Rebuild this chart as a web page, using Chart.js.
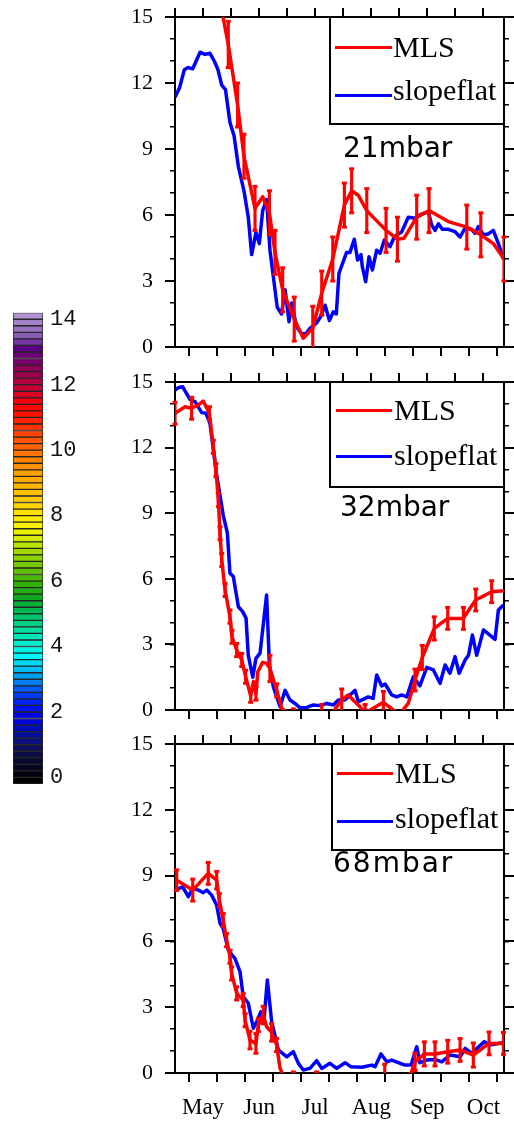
<!DOCTYPE html>
<html>
<head>
<meta charset="utf-8">
<script src="https://cdn.jsdelivr.net/npm/chart.js@4.4.1/dist/chart.umd.min.js"></script>
<style>
html, body { margin: 0; padding: 0; background: #fff; }
body { width: 514px; height: 1123px; position: relative; overflow: hidden; }
canvas { position: absolute; }
.box { position: absolute; border: 2px solid #000; background: #fff; box-sizing: border-box; }
.ln { position: absolute; height: 3px; }
.tx { position: absolute; font-family: "Liberation Serif", "Times New Roman", serif; font-size: 30px; line-height: 30px; white-space: nowrap; color: #000; }
.lev { position: absolute; font-family: "DejaVu Sans", sans-serif; font-size: 28px; line-height: 28px; white-space: nowrap; color: #000; }
</style>
</head>
<body>
<canvas id="cbar" width="100" height="500" style="left:0;top:300px"></canvas>
<canvas id="p1" width="384" height="362" style="left:130px;top:0"></canvas>
<canvas id="p2" width="384" height="363" style="left:130px;top:362px"></canvas>
<canvas id="p3" width="384" height="398" style="left:130px;top:725px"></canvas>

<!-- 21mbar -->
<div class="box" style="left:329px;top:16px;width:176px;height:109px"></div>
<div class="ln" style="left:335px;top:45.5px;width:57px;background:#f00"></div>
<div class="tx" style="left:393px;top:32px">MLS</div>
<div class="ln" style="left:335px;top:94px;width:57px;background:#00f"></div>
<div class="tx" style="left:393px;top:75px">slopeflat</div>
<div class="lev" style="left:343px;top:134px">21mbar</div>

<!-- 32mbar -->
<div class="box" style="left:329px;top:381px;width:176px;height:107px"></div>
<div class="ln" style="left:336px;top:408.5px;width:56px;background:#f00"></div>
<div class="tx" style="left:394px;top:395px">MLS</div>
<div class="ln" style="left:336px;top:455px;width:56px;background:#00f"></div>
<div class="tx" style="left:394px;top:440px">slopeflat</div>
<div class="lev" style="left:340px;top:493px">32mbar</div>

<!-- 68mbar -->
<div class="box" style="left:331px;top:743px;width:174px;height:108px"></div>
<div class="ln" style="left:337px;top:772px;width:56px;background:#f00"></div>
<div class="tx" style="left:395px;top:758px">MLS</div>
<div class="ln" style="left:337px;top:820px;width:56px;background:#00f"></div>
<div class="tx" style="left:395px;top:803px">slopeflat</div>
<div class="lev" style="left:333px;top:849px;letter-spacing:2px">68mbar</div>

<script>
// x axis = days from mid-April (0 .. 176)
const DAY_MAX = 176;
const xTicks = [0, 15, 30, 45, 60, 75, 90, 105, 120, 135, 150, 165];
const monthDays = [15, 45, 75, 105, 135, 165];
const monthNames = ['May', 'Jun', 'Jul', 'Aug', 'Sep', 'Oct'];
const yMajor = [0, 3, 6, 9, 12, 15];
const yMinor = [0, 1, 2, 3, 4, 5, 6, 7, 8, 9, 10, 11, 12, 13, 14, 15];
const cbarLabels = [0, 2, 4, 6, 8, 10, 12, 14];

// [day, value]
const slopeflat21 = [[0,11.35],[2.5,11.8],[5,12.6],[7,12.7],[9.5,12.65],[13.4,13.4],[16,13.3],[18.7,13.35],[21,13.0],[23,12.6],[25,11.9],[27,11.7],[29.4,10.2],[31.6,9.6],[33.9,8.2],[36.9,7.1],[39.2,5.9],[41,4.2],[43.3,5.2],[45.1,4.7],[46.9,6.2],[49,6.7],[50.8,4.4],[52.6,3.2],[54.7,1.8],[57,1.5],[58.9,2.6],[61,1.15],[62.4,2.0],[65.1,0.9],[67.8,0.6],[70,0.6],[72.2,0.85],[75.8,1.1],[78,1.4],[80.3,1.9],[82.6,1.2],[84.7,1.6],[86.3,1.5],[87.7,3.35],[91.8,4.3],[93.6,4.3],[95.9,4.9],[97.7,3.95],[99.5,4.2],[100.2,3.65],[102,2.97],[103.8,4.1],[105.6,3.5],[107.9,4.4],[109.7,4.26],[112,4.86],[115,4.56],[117.3,5.0],[121.3,5.24],[124.8,5.9],[128.4,5.85],[131,6.0],[135.5,6.15],[137.3,5.55],[139.1,5.3],[140.9,5.6],[143,5.35],[146.2,5.35],[149.8,5.24],[152.5,5.0],[155.2,5.4],[158.7,5.35],[160.5,5.17],[162.3,5.47],[165,5.1],[167.6,5.14],[170.3,5.3],[173,4.7],[175.7,4.0]];
// [day, value, error]
const mls21 = [[23,16.2,null],[28.5,13.75,1.05],[33.5,11.0,1.0],[36.9,8.67,1.0],[42.8,6.3,1.0],[46.9,6.83,null],[50.5,6.1,1.0],[53.5,4.3,1.0],[57.6,2.6,1.0],[63.8,1.27,1.0],[68.6,0.4,null],[73.7,0.85,1.0],[78.5,2.45,1.0],[84.4,4.0,1.0],[90.6,6.45,1.0],[94.5,7.1,1.0],[98,6.9,null],[102.6,6.2,1.0],[112.9,5.3,1.0],[119,4.9,1.0],[122.5,4.94,null],[129.3,5.9,1.0],[135.9,6.2,1.0],[146.2,5.7,null],[156.1,5.45,1.0],[163.6,5.1,1.0],[170.3,4.7,null],[176,4.0,1.0]];

const slopeflat32 = [[0,14.63],[2,14.75],[4.1,14.78],[8,14.2],[10.7,14.1],[14.3,13.6],[16.6,13.57],[18.7,13.1],[22.3,10.75],[25.8,8.9],[28,8.1],[29.4,6.25],[31.2,6.1],[33.9,4.72],[36.2,4.5],[38,4.2],[39.2,2.5],[41.6,1.5],[43.3,2.36],[45.5,2.6],[49,5.26],[50.5,2.06],[52.6,1.07],[56.2,0.15],[58.9,0.9],[61.5,0.46],[64.2,0.3],[66.9,0.1],[70.5,0.12],[74,0.23],[77.6,0.2],[81.2,0.3],[84.7,0.23],[87.4,0.46],[90.9,0.46],[96.3,0.9],[98.1,0.38],[103.4,0.6],[106,0.53],[107.9,1.6],[110.6,1.1],[112.4,1.19],[115.9,0.69],[118.6,0.6],[121.3,0.69],[124,0.6],[127.5,1.52],[131,1.1],[134.7,1.95],[138.2,1.83],[141.8,1.22],[144.5,2.06],[147.1,1.68],[149.8,2.44],[152,1.68],[155.2,2.29],[157,2.5],[159.1,3.43],[161.4,2.5],[165,3.66],[171.2,3.23],[173,4.57],[175.7,4.8]];
const mls32 = [[0,13.57,0.5],[5.4,13.87,null],[8.9,13.8,0.5],[12.5,13.95,null],[15.1,14.13,null],[18.4,13.57,0.3],[20.5,12.04,0.3],[21.9,10.97,0.3],[23.2,9.6,0.3],[24.1,8.08,0.3],[25.0,6.86,0.3],[26.8,5.49,0.3],[29.4,4.27,0.3],[30.5,3.35,0.3],[33.0,2.74,0.3],[35.7,2.29,0.3],[37.8,1.52,0.3],[40.5,0.65,0.3],[42,1.3,null],[43.3,0.75,0.3],[44.3,1.75,null],[46.9,2.18,null],[49,2.13,null],[50.8,1.9,0.6],[54.4,0.9,0.3],[57.1,0.08,null],[63.3,-0.35,0.4],[70,-0.6,null],[78.5,-0.2,0.45],[83,-0.3,null],[86.5,0.15,null],[89.2,0.46,0.5],[92.7,0.69,null],[96,0.4,null],[99,0.15,null],[101.7,-0.15,0.4],[106,0.08,null],[111.5,0.35,0.5],[116.8,0,null],[120,-0.2,null],[124.8,0.3,null],[128.4,1.37,0.5],[132.3,2.4,0.55],[138.7,3.73,0.53],[145.9,4.19,0.5],[154.3,4.19,0.5],[157.8,4.65,null],[160.9,5.03,0.5],[169.4,5.41,0.5],[176,5.45,null]];

const slopeflat68 = [[0,8.35],[4.1,8.49],[7.1,8.04],[9.5,8.42],[12.5,8.34],[15.1,8.22],[17,8.34],[19.6,8.11],[22.3,7.65],[24.1,6.82],[25.8,6.59],[28.5,5.6],[32.1,5.22],[34.8,4.61],[36.5,3.48],[39.2,3.18],[41.9,2.04],[43.7,2.34],[45.9,2.79],[47.6,2.41],[49.4,4.24],[51.7,2.34],[55.3,1.05],[59.8,0.74],[63.3,0.97],[66,0.44],[68.6,0.14],[72.2,0.21],[75.8,0.56],[78.5,0.21],[82.9,0.44],[86.5,0.21],[91,0.47],[94,0.29],[99.9,0.26],[105.2,0.36],[107,0.29],[110.2,0.87],[113.3,0.51],[115.9,0.59],[123,0.36],[126.3,0.36],[129.3,1.2],[131,0.47],[134.7,0.59],[139.1,0.62],[142.7,0.51],[147.1,0.82],[152.5,0.74],[155.2,1.12],[158.7,0.9],[165.5,1.43],[168.5,1.28],[174.8,1.38],[176,1.28]];
const mls68 = [[0.9,8.79,0.47],[9.5,8.34,0.5],[17.8,9.1,0.5],[22.3,8.79,0.4],[23.7,7.88,0.3],[25.8,6.97,0.3],[27.6,6.06,0.3],[29.4,5.3,0.3],[30.3,4.54,0.3],[33,3.63,0.3],[36.5,3.33,0.3],[37.5,2.41,0.3],[40.1,1.5,0.4],[43.3,1.35,0.45],[44.6,2.19,0.3],[47.2,2.64,0.4],[49,2.11,null],[51.7,1.85,0.4],[54.4,1.28,0.3],[56.2,0.21,null],[60,-0.5,null],[63.3,-0.3,0.35],[70,-0.6,null],[75.8,-0.3,0.35],[90,-0.6,null],[112.2,-0.15,0.55],[120,-0.4,null],[126.3,0,null],[128.4,0.51,0.4],[133.4,0.87,0.55],[139.1,0.87,0.55],[145.9,0.97,0.52],[152.5,1.05,0.52],[159.6,0.82,0.55],[168,1.35,0.52],[175.7,1.35,0.5]];

// colour table of the label bar (value, colour)
const cbarStops = [[-0.1,'#000000'],[0.5,'#0a0a30'],[1.0,'#10106a'],[1.4,'#0010a8'],[1.8,'#0000e0'],[2.2,'#0018f0'],[2.6,'#0048f0'],[3.1,'#00a0f0'],[3.4,'#00c8f8'],[3.7,'#00f8f8'],[4.1,'#00f0d0'],[4.6,'#00d890'],[5.1,'#00b850'],[5.5,'#10a820'],[5.9,'#30b000'],[6.3,'#60c000'],[6.9,'#a0d800'],[7.2,'#c8e800'],[7.6,'#f8f400'],[8.1,'#ffe000'],[8.6,'#ffc400'],[9.3,'#ffa000'],[9.9,'#ff7400'],[10.4,'#ff4c00'],[11.0,'#ff1800'],[11.4,'#ff0000'],[11.8,'#d00030'],[12.1,'#b00040'],[12.5,'#8c0058'],[12.8,'#700070'],[13.1,'#600088'],[13.4,'#8050b0'],[13.7,'#9870c0'],[14.1,'#b094d0']];

const RED = '#ff0000';
const BLUE = '#0000ff';
const SERIF = '"Liberation Serif", "Times New Roman", serif';

function hexRgb(h) { return [1, 3, 5].map(i => parseInt(h.substr(i, 2), 16)); }
function cmap(v) {
  if (v <= cbarStops[0][0]) return cbarStops[0][1];
  for (let i = 1; i < cbarStops.length; i++) {
    if (v <= cbarStops[i][0]) {
      const a = cbarStops[i - 1], b = cbarStops[i];
      const t = (v - a[0]) / (b[0] - a[0]);
      const ca = hexRgb(a[1]), cb = hexRgb(b[1]);
      const c = ca.map((x, k) => Math.round(x + (cb[k] - x) * t));
      return 'rgb(' + c.join(',') + ')';
    }
  }
  return cbarStops[cbarStops.length - 1][1];
}

function axis(name, pos, weight, vals, len, size, lw, labelFn, font, pad) {
  return {
    type: 'linear', axis: name, position: pos, weight: weight,
    min: 0, max: name === 'x' ? DAY_MAX : 15, offset: false,
    afterBuildTicks: s => { s.ticks = vals.map(v => ({ value: v })); },
    afterFit: s => {
      if (name === 'x') s.height = size; else s.width = size;
      s.paddingLeft = s.paddingRight = s.paddingTop = s.paddingBottom = 0;
    },
    grid: { drawOnChartArea: false, drawTicks: true, tickLength: len, tickWidth: lw, tickColor: '#000', lineWidth: lw, color: '#000' },
    border: { display: true, width: 2, color: '#000' },
    ticks: labelFn
      ? { display: true, autoSkip: false, maxRotation: 0, padding: pad, color: '#000', font: font, callback: labelFn }
      : { display: false }
  };
}

function makePanel(id, sf, mls, padTop, bottomH, showMonths) {
  const withErr = mls.filter(p => p[2] !== null);
  const stems = withErr.map(p => ({ x: p[0], y: [p[1] - p[2], p[1] + p[2]] }));
  const caps = [];
  withErr.forEach(p => { caps.push({ x: p[0], y: p[1] - p[2] }, { x: p[0], y: p[1] + p[2] }); });

  const monthLabel = v => { const i = monthDays.indexOf(v); return i >= 0 ? monthNames[i] : ''; };

  return new Chart(document.getElementById(id), {
    type: 'line',
    data: {
      datasets: [
        { type: 'bar', data: stems, backgroundColor: RED, borderWidth: 0, barThickness: 2.5, grouped: false },
        { type: 'line', data: caps, showLine: false, pointStyle: 'line', pointRadius: 2.5, pointBorderWidth: 3,
          pointBorderColor: RED, clip: { left: 5, right: 5, top: 5, bottom: 0 } },
        { type: 'line', data: mls.map(p => ({ x: p[0], y: p[1] })), borderColor: RED, borderWidth: 3.5,
          pointRadius: 0, tension: 0, borderJoinStyle: 'round' },
        { type: 'line', data: sf.map(p => ({ x: p[0], y: p[1] })), borderColor: BLUE, borderWidth: 3.5,
          pointRadius: 0, tension: 0, borderJoinStyle: 'round' }
      ]
    },
    options: {
      responsive: false, animation: false, events: [],
      layout: { padding: { top: padTop, left: 0, right: 0, bottom: 0 } },
      plugins: { legend: { display: false }, tooltip: { enabled: false } },
      scales: {
        x: axis('x', 'bottom', 0, xTicks, 9, bottomH, 2, showMonths ? monthLabel : null, { family: SERIF, size: 23 }, 12),
        xTop: axis('x', 'top', 0, xTicks, 9, 9, 2, null),
        y: axis('y', 'left', 1, yMajor, 10, 45, 2, v => String(v), { family: SERIF, size: 22 }, 12),
        yMinor: axis('y', 'left', 0, yMinor, 5, 0, 1.5, null),
        yRight: axis('y', 'right', 1, yMajor, 10, 10, 2, null),
        yRightMinor: axis('y', 'right', 0, yMinor, 5, 0, 1.5, null)
      }
    }
  });
}

makePanel('p1', slopeflat21, mls21, 8, 15, false);
makePanel('p2', slopeflat32, mls32, 11, 15, false);
makePanel('p3', slopeflat68, mls68, 10, 50, true);

// label bar: 72 boxes of 0.2 between -0.2 and 14.2
const boxes = [];
for (let k = 0; k < 72; k++) {
  const lo = -0.2 + 0.2 * k;
  boxes.push({ lo: lo, hi: lo + 0.2, c: cmap(lo + 0.1) });
}
new Chart(document.getElementById('cbar'), {
  type: 'bar',
  data: {
    labels: [''],
    datasets: boxes.map(b => ({
      data: [[b.lo, b.hi]], backgroundColor: b.c, borderColor: '#262626', borderWidth: 1,
      borderSkipped: false, grouped: false, barPercentage: 1, categoryPercentage: 1
    }))
  },
  options: {
    responsive: false, animation: false, events: [],
    layout: { padding: { left: 13, top: 12.7, bottom: 16, right: 0 } },
    plugins: { legend: { display: false }, tooltip: { enabled: false } },
    scales: {
      x: { display: false },
      y: {
        position: 'right', min: -0.2, max: 14.2,
        afterBuildTicks: s => { s.ticks = cbarLabels.map(v => ({ value: v })); },
        afterFit: s => { s.width = 57; s.paddingTop = s.paddingBottom = 0; },
        grid: { display: false, drawTicks: false },
        border: { display: false },
        ticks: { padding: 7, color: '#111', font: { family: '"Liberation Mono", monospace', size: 22 } }
      }
    }
  }
});
</script>
</body>
</html>
